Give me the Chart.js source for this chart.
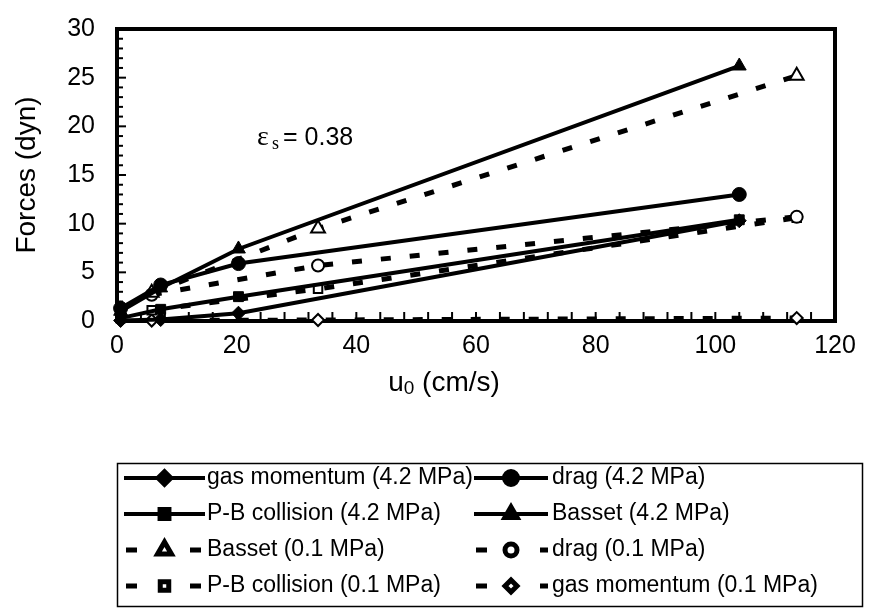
<!DOCTYPE html>
<html>
<head>
<meta charset="utf-8">
<script src="https://cdn.jsdelivr.net/npm/chart.js@4.4.0/dist/chart.umd.min.js"></script>
<style>
  html, body { margin: 0; padding: 0; background: #fff; }
  #wrap { width: 890px; height: 609px; }
</style>
</head>
<body>
<div id="wrap"><canvas id="forces"></canvas></div>
<script>
// superficial gas velocity (cm/s) at the two pressures
const uHigh = [0.6, 7.3, 20.3, 104];
const uLow = [5.8, 33.6, 113.6];

// forces (dyn), 4.2 MPa
const gasHigh = [0.05, 0.15, 0.8, 10.3];
const dragHigh = [1.3, 3.7, 5.9, 13.0];
const pbHigh = [0.3, 1.2, 2.5, 10.4];
const bassetHigh = [1.0, 3.4, 7.4, 26.2];

// forces (dyn), 0.1 MPa
const bassetLow = [2.9, 9.5, 25.2];
const dragLow = [2.7, 5.7, 10.7];
const pbLow = [1.1, 3.3, 10.6];
const gasLow = [0.05, 0.1, 0.3];

const xTicks = [0, 20, 40, 60, 80, 100, 120];
const yTicks = [0, 5, 10, 15, 20, 25, 30];

const FONT = '"Liberation Sans", Arial, sans-serif';

function pts(xs, ys) {
  return xs.map((x, i) => ({ x: x, y: ys[i] }));
}

function solid(label, xs, ys, style, r) {
  return {
    label: label,
    data: pts(xs, ys),
    showLine: true,
    borderColor: "#000",
    borderWidth: 4,
    pointStyle: style,
    pointRadius: r,
    pointBackgroundColor: "#000",
    pointBorderColor: "#000",
    pointBorderWidth: 1,
    clip: false,
  };
}

function dashed(label, xs, ys, style, r) {
  return {
    label: label,
    data: pts(xs, ys),
    showLine: true,
    borderColor: "#000",
    borderWidth: 5,
    borderDash: [10, 19],
    pointStyle: style,
    pointRadius: r,
    pointBackgroundColor: "#fff",
    pointBorderColor: "#000",
    pointBorderWidth: 2,
    clip: false,
  };
}

const datasets = [
  solid("gas momentum (4.2 MPa)", uHigh, gasHigh, "rectRot", 7),
  solid("drag (4.2 MPa)", uHigh, dragHigh, "circle", 7),
  solid("P-B collision (4.2 MPa)", uHigh, pbHigh, "rect", 7),
  solid("Basset (4.2 MPa)", uHigh, bassetHigh, "triangle", 8),
  dashed("Basset (0.1 MPa)", uLow, bassetLow, "triangle", 8),
  dashed("drag (0.1 MPa)", uLow, dragLow, "circle", 6),
  dashed("P-B collision (0.1 MPa)", uLow, pbLow, "rect", 6),
  dashed("gas momentum (0.1 MPa)", uLow, gasLow, "rectRot", 6),
];

// frame + inward ticks, annotation, titles and legend box
const decor = {
  id: "decor",
  beforeDatasetsDraw(chart) {
    const ctx = chart.ctx;
    const a = chart.chartArea;
    const sx = chart.scales.x;
    const sy = chart.scales.y;
    ctx.save();
    ctx.strokeStyle = "#000";
    ctx.lineWidth = 2;
    for (let v = 0; v <= 120; v += 4) {
      const px = sx.getPixelForValue(v);
      ctx.beginPath();
      ctx.moveTo(px, a.bottom);
      ctx.lineTo(px, a.bottom - 9);
      ctx.stroke();
    }
    for (let v = 0; v <= 30; v += 1) {
      const py = sy.getPixelForValue(v);
      ctx.beginPath();
      ctx.moveTo(a.left, py);
      ctx.lineTo(a.left + (v % 5 === 0 ? 9 : 6), py);
      ctx.stroke();
    }
    ctx.lineWidth = 4;
    ctx.strokeRect(a.left, a.top, a.right - a.left, a.bottom - a.top);
    ctx.restore();
  },
  afterDraw(chart) {
    const ctx = chart.ctx;
    const a = chart.chartArea;
    ctx.save();
    ctx.fillStyle = "#000";
    ctx.textBaseline = "middle";

    // epsilon annotation
    ctx.font = '28px "Liberation Serif", serif';
    ctx.textAlign = "left";
    ctx.fillText("\u03b5", 257, 138);
    ctx.font = '18px "Liberation Serif", serif';
    ctx.fillText("s", 272, 144);
    ctx.font = "25px " + FONT;
    ctx.fillText("= 0.38", 283, 138);

    // y title
    ctx.save();
    ctx.translate(27, (a.top + a.bottom) / 2);
    ctx.rotate(-Math.PI / 2);
    ctx.textAlign = "center";
    ctx.font = "28px " + FONT;
    ctx.fillText("Forces (dyn)", 0, 0);
    ctx.restore();

    // x title with subscript
    ctx.textAlign = "left";
    const big = "28px " + FONT;
    const small = "19px " + FONT;
    ctx.font = big;
    const wU = ctx.measureText("u").width;
    const wRest = ctx.measureText(" (cm/s)").width;
    ctx.font = small;
    const w0 = ctx.measureText("0").width;
    let tx = 444 - (wU + w0 + wRest) / 2;
    const ty = 383;
    ctx.font = big;
    ctx.fillText("u", tx, ty);
    ctx.font = small;
    ctx.fillText("0", tx + wU, ty + 6);
    ctx.font = big;
    ctx.fillText(" (cm/s)", tx + wU + w0, ty);

    // legend
    ctx.lineWidth = 1.5;
    ctx.strokeRect(117.5, 463.5, 745, 143);
    const colStart = [124, 474];
    const colEnd = [205, 548];
    const colText = [207, 552];
    ctx.font = "23px " + FONT;
    chart.data.datasets.forEach((ds, i) => {
      const col = i % 2;
      const row = Math.floor(i / 2);
      const y = 478 + row * 36;
      const x0 = colStart[col];
      const x1 = colEnd[col];
      ctx.strokeStyle = "#000";
      ctx.lineWidth = ds.borderWidth;
      ctx.setLineDash(ds.borderDash ? [11, 53] : []);
      ctx.beginPath();
      ctx.moveTo(x0 + (ds.borderDash ? 2 : 0), y);
      ctx.lineTo(x1, y);
      ctx.stroke();
      ctx.setLineDash([]);
      ctx.fillStyle = ds.pointBackgroundColor;
      ctx.strokeStyle = ds.pointBorderColor;
      Chart.helpers.drawPoint(ctx, {
        pointStyle: ds.pointStyle,
        radius: ds.pointRadius,
        rotation: 0,
        borderWidth: ds.pointBorderWidth,
      }, (x0 + x1) / 2, y);
      ctx.fillStyle = "#000";
      ctx.fillText(ds.label, colText[col], y);
    });
    ctx.restore();
  },
};

new Chart(document.getElementById("forces"), {
  type: "scatter",
  data: { datasets: datasets },
  options: {
    responsive: true,
    maintainAspectRatio: false,
    animation: false,
    devicePixelRatio: 1,
    layout: { padding: { top: 20, right: 55, left: 0, bottom: 0 } },
    plugins: {
      legend: { display: false },
      tooltip: { enabled: false },
    },
    scales: {
      x: {
        type: "linear",
        min: 0,
        max: 120,
        afterBuildTicks: (s) => { s.ticks = xTicks.map((v) => ({ value: v })); },
        afterFit: (s) => { s.height = 288; },
        grid: { display: false },
        border: { display: false },
        ticks: { color: "#000", font: { family: FONT, size: 25 }, padding: 2 },
      },
      y: {
        min: 0,
        max: 30,
        afterBuildTicks: (s) => { s.ticks = yTicks.map((v) => ({ value: v })); },
        afterFit: (s) => { s.width = 117; },
        grid: { display: false },
        border: { display: false },
        ticks: { color: "#000", font: { family: FONT, size: 25 }, padding: 14 },
      },
    },
  },
  plugins: [decor],
});
</script>
</body>
</html>
